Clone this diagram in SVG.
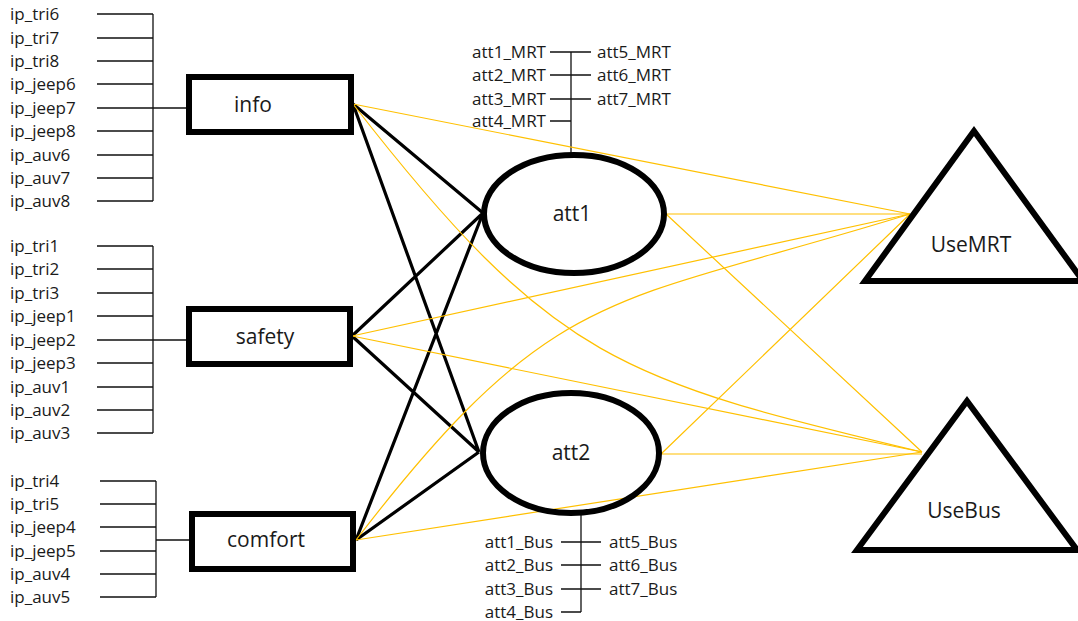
<svg xmlns="http://www.w3.org/2000/svg" width="1078" height="621" viewBox="0 0 1078 621">
<style>
.lbl{font-family:"Open Sans","Noto Sans",sans-serif;font-size:17px;fill:#1a1a1a}
.nl{font-family:"Open Sans","Noto Sans",sans-serif;font-size:21px;fill:#1a1a1a;text-anchor:middle}
.ind{stroke:#111;stroke-width:1.3;fill:none}
.box{fill:#fff;stroke:#000;stroke-width:6}
.yl{stroke:#FFC000;stroke-width:1.2;fill:none}
.bl{stroke:#000;stroke-width:3.2;fill:none}
</style>
<rect width="1078" height="621" fill="#fff"/>

<g id="indicators-info">
<path class="ind" d="M97,14H153M97,38H153M97,61H153M97,84H153M97,108H153M97,131H153M97,155H153M97,178H153M97,201H153M153,14V201M153,108H188"/>
<text class="lbl" x="10" y="20">ip_tri6</text>
<text class="lbl" x="10" y="44">ip_tri7</text>
<text class="lbl" x="10" y="67">ip_tri8</text>
<text class="lbl" x="10" y="90">ip_jeep6</text>
<text class="lbl" x="10" y="114">ip_jeep7</text>
<text class="lbl" x="10" y="137">ip_jeep8</text>
<text class="lbl" x="10" y="161">ip_auv6</text>
<text class="lbl" x="10" y="184">ip_auv7</text>
<text class="lbl" x="10" y="207">ip_auv8</text>
</g>

<g id="indicators-safety">
<path class="ind" d="M97,246H153M97,269H153M97,293H153M97,316H153M97,340H153M97,363H153M97,387H153M97,410H153M97,433H153M153,246V433M153,340H188"/>
<text class="lbl" x="10" y="252">ip_tri1</text>
<text class="lbl" x="10" y="275">ip_tri2</text>
<text class="lbl" x="10" y="299">ip_tri3</text>
<text class="lbl" x="10" y="322">ip_jeep1</text>
<text class="lbl" x="10" y="346">ip_jeep2</text>
<text class="lbl" x="10" y="369">ip_jeep3</text>
<text class="lbl" x="10" y="393">ip_auv1</text>
<text class="lbl" x="10" y="416">ip_auv2</text>
<text class="lbl" x="10" y="439">ip_auv3</text>
</g>

<g id="indicators-comfort">
<path class="ind" d="M100,481H156M100,504H156M100,527H156M100,551H156M100,574H156M100,597H156M156,481V597M156,540H191"/>
<text class="lbl" x="10" y="487">ip_tri4</text>
<text class="lbl" x="10" y="510">ip_tri5</text>
<text class="lbl" x="10" y="533">ip_jeep4</text>
<text class="lbl" x="10" y="557">ip_jeep5</text>
<text class="lbl" x="10" y="580">ip_auv4</text>
<text class="lbl" x="10" y="603">ip_auv5</text>
</g>

<g id="indicators-att1">
<path class="ind" d="M571,52V153M550,52H591M550,75H591M550,99H591M550,121H571"/>
<text class="lbl" x="546" y="58" text-anchor="end">att1_MRT</text>
<text class="lbl" x="546" y="81" text-anchor="end">att2_MRT</text>
<text class="lbl" x="546" y="105" text-anchor="end">att3_MRT</text>
<text class="lbl" x="546" y="127" text-anchor="end">att4_MRT</text>
<text class="lbl" x="597" y="58">att5_MRT</text>
<text class="lbl" x="597" y="81">att6_MRT</text>
<text class="lbl" x="597" y="105">att7_MRT</text>
</g>

<g id="indicators-att2">
<path class="ind" d="M581,512V612M561,542H601M561,565H601M561,589H601M561,612H581"/>
<text class="lbl" x="553" y="548" text-anchor="end">att1_Bus</text>
<text class="lbl" x="553" y="571" text-anchor="end">att2_Bus</text>
<text class="lbl" x="553" y="595" text-anchor="end">att3_Bus</text>
<text class="lbl" x="553" y="618" text-anchor="end">att4_Bus</text>
<text class="lbl" x="609" y="548">att5_Bus</text>
<text class="lbl" x="609" y="571">att6_Bus</text>
<text class="lbl" x="609" y="595">att7_Bus</text>
</g>

<g id="connectors">
<path class="bl" d="M353,104L483,213M353,104L479,452M352,336L483,213M352,336L479,452M356,540L483,213M356,540L479,452"/>
<path class="yl" d="M353,104L910,214M353,104C554,363 622,380 922,452"/>
<path class="yl" d="M352,336L910,214M352,336L922,452"/>
<path class="yl" d="M356,540L922,452M356,540C556,280 610,307 910,214"/>
<path class="yl" d="M666,214L910,214M666,214L922,452"/>
<path class="yl" d="M661,454L922,454M661,454L910,214"/>
</g>

<g id="info"><rect class="box" x="189" y="77" width="162" height="55"/><text class="nl" x="253" y="112">info</text></g>
<g id="safety"><rect class="box" x="189" y="309" width="161" height="55"/><text class="nl" x="265" y="344">safety</text></g>
<g id="comfort"><rect class="box" x="192" y="514" width="161" height="55"/><text class="nl" x="266" y="547">comfort</text></g>

<g id="att1"><ellipse cx="574" cy="214" rx="90" ry="59" fill="none" stroke="#000" stroke-width="6"/><text class="nl" x="572" y="221">att1</text></g>
<g id="att2"><ellipse cx="571" cy="453" rx="88" ry="60" fill="none" stroke="#000" stroke-width="6"/><text class="nl" x="571" y="460">att2</text></g>

<g id="UseMRT"><polygon points="974,131 865,281 1083,281" fill="none" stroke="#000" stroke-width="6" stroke-linejoin="miter"/><text class="nl" x="971" y="252">UseMRT</text></g>
<g id="UseBus"><polygon points="967,401 857,550 1077,550" fill="none" stroke="#000" stroke-width="6" stroke-linejoin="miter"/><text class="nl" x="964" y="518">UseBus</text></g>
</svg>
